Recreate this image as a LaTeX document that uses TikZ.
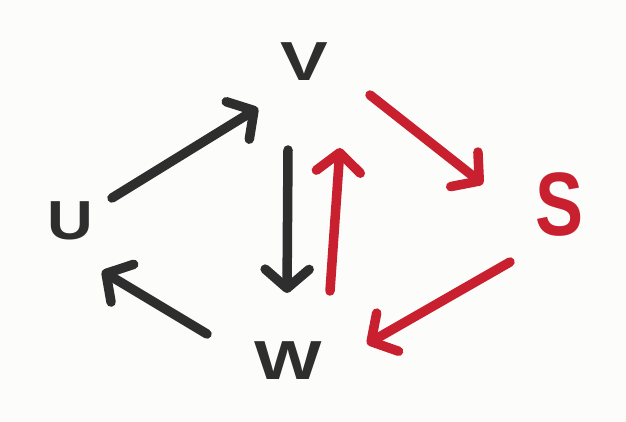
\documentclass[tikz,border=0pt]{standalone}
\usepackage{fontspec}
\setmainfont{Liberation Sans}
\usetikzlibrary{arrows.meta}
\definecolor{ink}{HTML}{2E2E2E}
\definecolor{redink}{HTML}{C8202E}
\definecolor{paper}{HTML}{FCFCFB}
\begin{document}
\begin{tikzpicture}[x=1pt,y=-1pt,
  lbl/.style={inner sep=0pt,font=\fontsize{55}{55}\selectfont\bfseries},
  arr/.style={line width=9.5pt,line cap=round,line join=round,
    -{Straight Barb[length=19pt,width=44pt,line width=9.5pt,line cap=round,line join=round]}},
  blk/.style={arr,draw=ink},
  rd/.style={arr,draw=redink}]
\fill[paper] (0,0) rectangle (626,422);
\useasboundingbox (0,0) rectangle (626,422);
\node[lbl,text=ink] (V) at (304,62) {\scalebox{1.3}[1]{V}};
\node[lbl,text=ink] (U) at (70,221) {\scalebox{1.15}[1]{U}};
\node[lbl,text=ink] (W) at (288,361) {\scalebox{1.3}[1]{W}};
\node[inner sep=0pt,font=\fontsize{90}{90}\selectfont\bfseries,text=redink] (S) at (560,205) {\scalebox{0.8}[1]{S}};
\coordinate (uv1) at (112,198); \coordinate (uv2) at (258,108);
\coordinate (vw1) at (288,150); \coordinate (vw2) at (287,293);
\coordinate (wv1) at (330,291); \coordinate (wv2) at (340,148);
\coordinate (vs1) at (370,95);  \coordinate (vs2) at (483,184);
\coordinate (sw1) at (510,262); \coordinate (sw2) at (367,344);
\coordinate (wu1) at (207,334); \coordinate (wu2) at (102,271);
\draw[blk] (uv1) -- (uv2);
\draw[blk] (vw1) -- (vw2);
\draw[rd] (wv1) -- (wv2);
\draw[rd] (vs1) -- (vs2);
\draw[rd] (sw1) -- (sw2);
\draw[blk] (wu1) -- (wu2);
\end{tikzpicture}
\end{document}
